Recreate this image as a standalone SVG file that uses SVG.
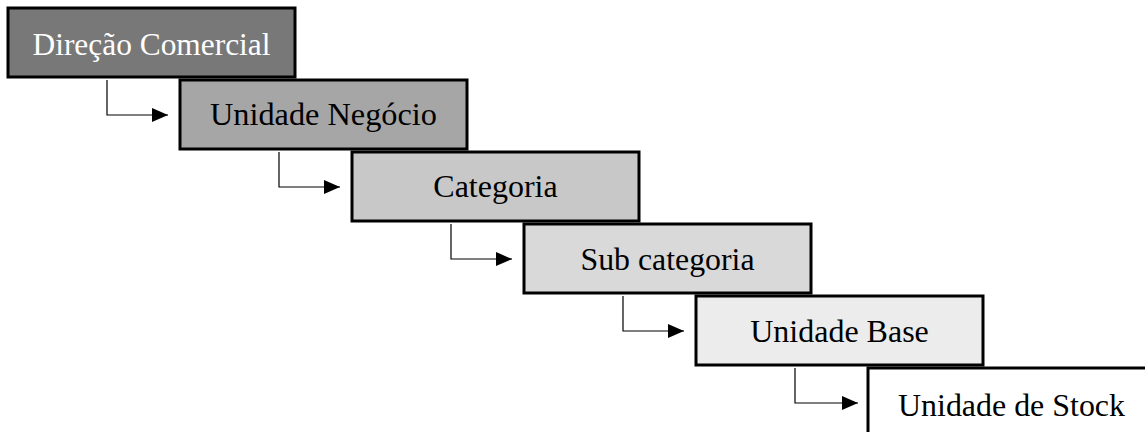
<svg xmlns="http://www.w3.org/2000/svg" width="1145" height="432" viewBox="0 0 1145 432">
<style>
.box{stroke:#000;stroke-width:3}
.lbl{font-family:"Liberation Serif","Times New Roman",serif;font-size:32px;text-anchor:middle;fill:#000}
.conn{fill:none;stroke:#000;stroke-width:1.2;marker-end:url(#ah)}
</style>
<defs>
<marker id="ah" markerWidth="16" markerHeight="14" refX="16" refY="7" orient="auto" markerUnits="userSpaceOnUse" viewBox="0 0 16 14">
<path d="M0,0 L16,7 L0,14 Z" fill="#000"/>
</marker>
</defs>
<rect width="1145" height="432" fill="#fff"/>
<g id="connectors">
<path class="conn" d="M107,80 V115 H168"/>
<path class="conn" d="M279,152 V187 H340"/>
<path class="conn" d="M451,224 V259 H512"/>
<path class="conn" d="M623,296 V331 H684"/>
<path class="conn" d="M795,368 V403 H858"/>
</g>
<g id="node1">
<rect class="box" x="8" y="8" width="287" height="69" fill="#787878"/>
<text class="lbl" x="151.5" y="55" style="fill:#fff" textLength="238" lengthAdjust="spacingAndGlyphs">Direção Comercial</text>
</g>
<g id="node2">
<rect class="box" x="180" y="80" width="287" height="69" fill="#a6a6a6"/>
<text class="lbl" x="323.5" y="125" textLength="227" lengthAdjust="spacingAndGlyphs">Unidade Negócio</text>
</g>
<g id="node3">
<rect class="box" x="352" y="152" width="287" height="69" fill="#c8c8c8"/>
<text class="lbl" x="495.5" y="197">Categoria</text>
</g>
<g id="node4">
<rect class="box" x="524" y="224" width="287" height="69" fill="#d9d9d9"/>
<text class="lbl" x="667.5" y="270" textLength="174" lengthAdjust="spacingAndGlyphs">Sub categoria</text>
</g>
<g id="node5">
<rect class="box" x="696" y="296" width="287" height="69" fill="#ececec"/>
<text class="lbl" x="839.5" y="342">Unidade Base</text>
</g>
<g id="node6">
<rect class="box" x="868" y="368" width="287" height="69" fill="#fff"/>
<text class="lbl" x="1011.5" y="416" textLength="227" lengthAdjust="spacingAndGlyphs">Unidade de Stock</text>
</g>
</svg>
